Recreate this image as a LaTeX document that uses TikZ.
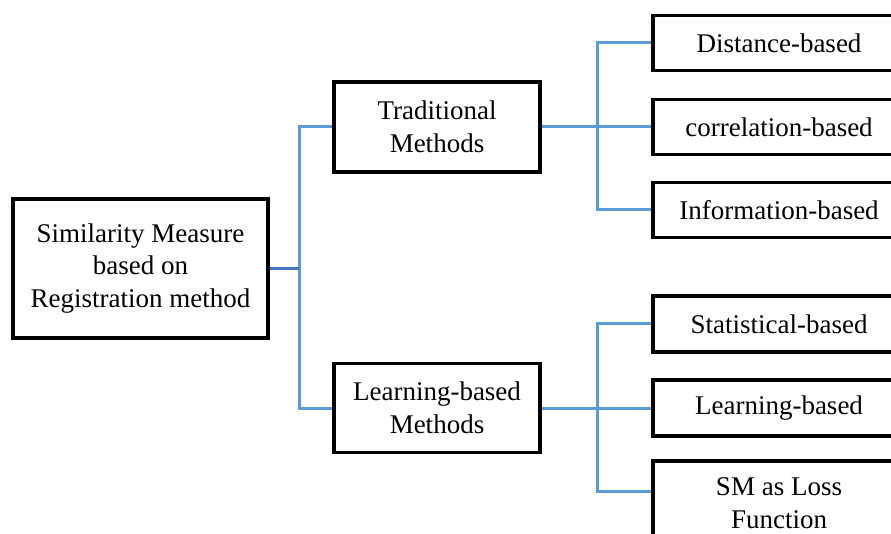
\documentclass[tikz,border=0pt]{standalone}
\usepackage{fontspec}
\setmainfont{Liberation Serif}
\definecolor{lblue}{HTML}{5B9BD5}
\definecolor{dblue}{HTML}{4472C4}
\begin{document}
\begin{tikzpicture}[x=1pt,y=-1pt,
  box/.style={draw=black,line width=3.5pt,fill=white,align=center,inner sep=0pt,
    font=\fontsize{27}{32.5}\selectfont},
  conn/.style={draw=lblue,line width=3pt},
  stub/.style={draw=dblue,line width=3pt}]
\useasboundingbox (0,0) rectangle (891,534);
\clip (0,0) rectangle (891,534);
% nodes
\node[box,minimum width=255pt,minimum height=139pt] (root) at (140.5,268.5) {Similarity Measure\\based on\\Registration method};
\node[box,minimum width=206pt,minimum height=90pt] (trad) at (437,127) {Traditional\\Methods};
\node[box,minimum width=206pt,minimum height=89pt] (learnm) at (437,408) {Learning-based\\Methods};
\node[box,minimum width=252pt,minimum height=55pt] (dist) at (779,43) {Distance-based};
\node[box,minimum width=252pt,minimum height=55pt] (corr) at (779,127) {correlation-based};
\node[box,minimum width=252pt,minimum height=55pt] (info) at (779,210) {Information-based};
\node[box,minimum width=252pt,minimum height=56pt] (stat) at (779,324) {Statistical-based};
\node[box,minimum width=252pt,minimum height=56pt] (learn) at (779,408) {Learning-based};
\node[box,minimum width=252pt,minimum height=84pt,text depth=0pt] (sm) at (779,503) {SM as Loss\\Function};
% junctions
\coordinate (j1) at (299,268.5);
\coordinate (j2) at (597,127);
\coordinate (j3) at (597,408);
% connectors
\draw[conn] (j1) |- (trad.west);
\draw[conn] (j1) |- (learnm.west);
\draw[stub] (root.east) -- (j1);
\draw[conn] (trad.east) -- (j2);
\draw[conn] (j2) |- (dist.west);
\draw[conn] (j2) -- (corr.west);
\draw[conn] (j2) |- (info.west);
\draw[conn] (learnm.east) -- (j3);
\draw[conn] (j3) |- (stat.west);
\draw[conn] (j3) -- (learn.west);
\draw[conn] (j3) |- ([yshift=12pt]sm.west);
\end{tikzpicture}
\end{document}
